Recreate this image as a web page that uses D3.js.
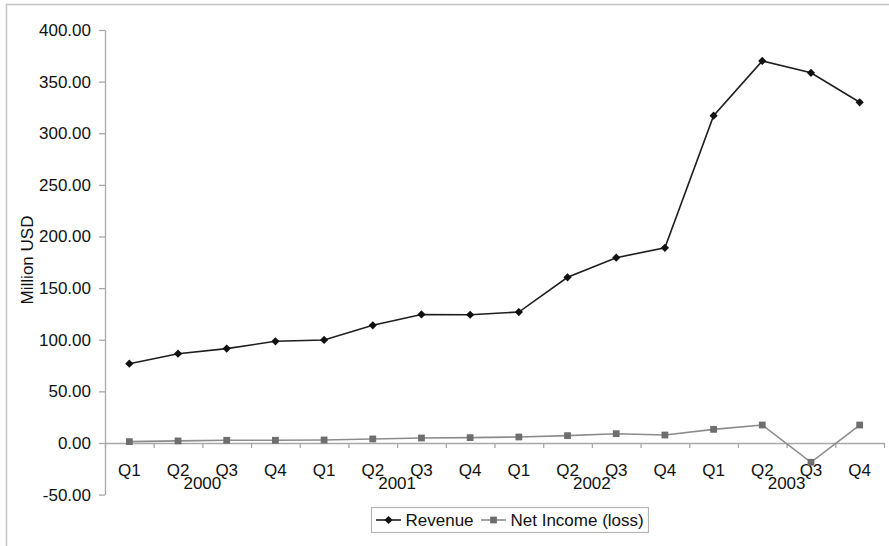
<!DOCTYPE html>
<html>
<head>
<meta charset="utf-8">
<script src="https://cdn.jsdelivr.net/npm/d3@7"></script>
<style>
  html, body { margin: 0; padding: 0; background: #fff; }
  svg { display: block; font-family: "Liberation Sans", Arial, sans-serif; }
</style>
</head>
<body>
<svg id="chart" width="889" height="546"></svg>
<script>
// ---- data ----
const years = ["2000", "2001", "2002", "2003"];
const quarters = ["Q1", "Q2", "Q3", "Q4"];
const revenue = [76.8, 86.5, 91.4, 98.5, 99.8, 114.0, 124.5, 124.2, 126.8, 160.5, 179.5, 189.0, 317.0, 370.0, 358.5, 330.0];
const netIncome = [1.3, 2.0, 2.6, 2.6, 2.9, 3.9, 4.8, 5.2, 5.8, 7.1, 9.0, 7.7, 13.2, 17.4, -18.7, 17.4];
const yTicks = [-50, 0, 50, 100, 150, 200, 250, 300, 350, 400];
const yTitle = "Million USD";
const seriesNames = ["Revenue", "Net Income (loss)"];

(function () {
// ---- build ----
const keys = [];
years.forEach(y => quarters.forEach(q => keys.push(y + " " + q)));
const series = [
  { name: seriesNames[0], values: revenue, line: "#1e1e1e", fill: "#111", symbol: "diamond" },
  { name: seriesNames[1], values: netIncome, line: "#8c8c8c", fill: "#6e6e6e", symbol: "square" }
];

const svg = d3.select("#chart");
const pLeft = 105, pRight = 884, pTop = 30, pBottom = 494.6;

// outer frame (only top/left visible)
svg.append("rect").attr("x", 6.5).attr("y", 4.5).attr("width", 1000).attr("height", 1000)
  .attr("fill", "none").attr("stroke", "#c4c4c4").attr("stroke-width", 1.5);

const x = d3.scaleBand().domain(keys).range([pLeft, pRight]).paddingInner(0).paddingOuter(0);
const xLin = d3.scaleLinear().domain([0, keys.length]).range([pLeft, pRight]);
const y = d3.scaleLinear().domain([-50, 400]).range([pBottom, pTop]);
const cx = k => x(k) + x.bandwidth() / 2;

// y axis
const yAxis = svg.append("g").attr("transform", `translate(${pLeft},0)`)
  .call(d3.axisLeft(y).tickValues(yTicks).tickFormat(d => d.toFixed(2)).tickSize(6).tickPadding(8).tickSizeOuter(0));
yAxis.select(".domain").attr("stroke", "#a8a8a8").attr("stroke-width", 1.3);
yAxis.selectAll(".tick line").attr("stroke", "#a8a8a8").attr("stroke-width", 1.3);
yAxis.selectAll(".tick text").attr("font-size", 17).attr("fill", "#111")
  .attr("font-family", "'Liberation Sans', Arial, sans-serif");

// x axis at zero
const xAxis = svg.append("g").attr("transform", `translate(0,${y(0)})`)
  .call(d3.axisBottom(xLin).tickValues(d3.range(keys.length + 1)).tickFormat("").tickSize(5).tickSizeOuter(0));
xAxis.select(".domain").attr("stroke", "#a8a8a8").attr("stroke-width", 1.3);
xAxis.selectAll(".tick line").attr("stroke", "#a8a8a8").attr("stroke-width", 1.3);

// quarter labels
svg.append("g").selectAll("text").data(keys).join("text")
  .attr("x", d => cx(d)).attr("y", 476)
  .attr("text-anchor", "middle").attr("font-size", 17).attr("fill", "#111")
  .text(d => d.split(" ")[1]);

// year labels
svg.append("g").selectAll("text").data(years).join("text")
  .attr("x", (d, i) => xLin(i * quarters.length + 2)).attr("y", 489)
  .attr("text-anchor", "middle").attr("font-size", 17).attr("fill", "#111")
  .text(d => d);

// y title
svg.append("text").attr("transform", "translate(33,260) rotate(-90)")
  .attr("text-anchor", "middle").attr("font-size", 17).attr("fill", "#111").text(yTitle);

// markers
function marker(sel, s) {
  if (s.symbol === "diamond") {
    sel.append("path").attr("d", d3.symbol(d3.symbolSquare, 34)())
      .attr("transform", "rotate(45)").attr("fill", s.fill);
  } else {
    sel.append("path").attr("d", d3.symbol(d3.symbolSquare, 46)()).attr("fill", s.fill);
  }
}

const line = d3.line().x((d, i) => cx(keys[i])).y(d => y(d));
series.slice().reverse().forEach(s => {
  svg.append("path").datum(s.values).attr("d", line)
    .attr("fill", "none").attr("stroke", s.line).attr("stroke-width", 1.6);
  svg.append("g").selectAll("g").data(s.values).join("g")
    .attr("transform", (d, i) => `translate(${cx(keys[i])},${y(d)})`)
    .each(function () { marker(d3.select(this), s); });
});

// legend
const lg = svg.append("g");
lg.append("rect").attr("x", 371.5).attr("y", 507.5).attr("width", 277).attr("height", 25)
  .attr("fill", "#fff").attr("stroke", "#b4b4b4").attr("stroke-width", 1.2);
const legendX = [376, 481];
series.forEach((s, i) => {
  const g = lg.append("g").attr("transform", `translate(${legendX[i]},520)`);
  g.append("line").attr("x1", 0).attr("x2", 25).attr("stroke", s.line).attr("stroke-width", 1.6);
  const m = g.append("g").attr("transform", "translate(12.5,0)");
  marker(m, s);
  g.append("text").attr("x", 29.5).attr("y", 6).attr("font-size", 17).attr("fill", "#111").text(s.name);
});
})();
</script>
</body>
</html>
